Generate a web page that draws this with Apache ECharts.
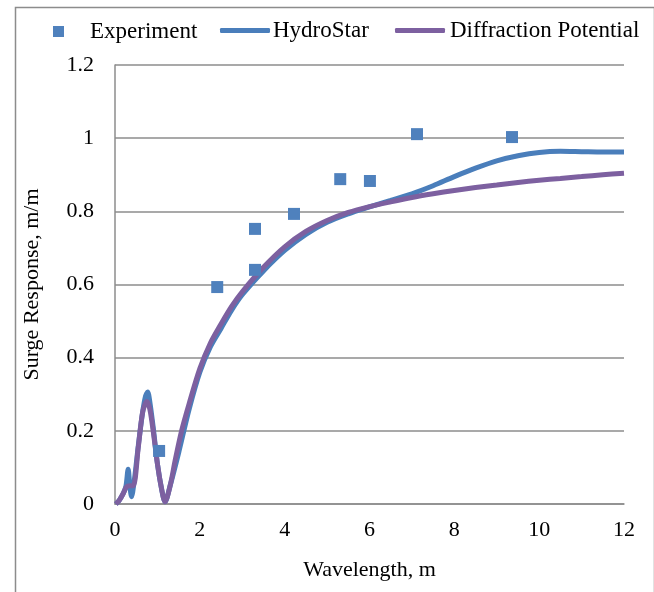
<!DOCTYPE html>
<html>
<head>
<meta charset="utf-8">
<script src="https://cdn.jsdelivr.net/npm/echarts@6/dist/echarts.min.js"></script>
<style>
html,body{margin:0;padding:0;background:#fff;}
#c{width:654px;height:592px;}
</style>
</head>
<body>
<div id="c"></div>
<script>
// Experiment points
const expX = [1.04, 2.41, 3.30, 3.30, 4.22, 5.31, 6.01, 7.12, 9.36];
const expY = [0.145, 0.593, 0.752, 0.640, 0.793, 0.888, 0.883, 1.011, 1.003];

// HydroStar curve
const hsX = [0.02, 0.1, 0.2, 0.26, 0.31, 0.35, 0.39, 0.45, 0.55, 0.65, 0.72, 0.77, 0.82, 0.9, 1.0, 1.1, 1.18, 1.3, 1.5, 1.75, 2.0, 2.25, 2.5, 2.75, 3.0, 3.5, 4.0, 4.5, 5.0, 5.5, 6.0, 6.5, 7.0, 7.5, 8.0, 8.5, 9.0, 9.5, 10.0, 10.5, 11.0, 11.5, 12.0];
const hsY = [0.0, 0.01, 0.03, 0.05, 0.095, 0.05, 0.02, 0.06, 0.16, 0.25, 0.295, 0.306, 0.28, 0.21, 0.11, 0.04, 0.006, 0.05, 0.14, 0.26, 0.36, 0.43, 0.48, 0.53, 0.572, 0.637, 0.693, 0.737, 0.77, 0.793, 0.812, 0.83, 0.848, 0.87, 0.895, 0.918, 0.938, 0.952, 0.961, 0.964, 0.963, 0.962, 0.962];

// Diffraction Potential curve
const dpX = [0.02, 0.1, 0.2, 0.27, 0.35, 0.43, 0.55, 0.65, 0.75, 0.82, 0.9, 1.0, 1.1, 1.18, 1.3, 1.42, 1.57, 1.75, 2.0, 2.25, 2.5, 2.75, 3.0, 3.5, 4.0, 4.5, 5.0, 5.5, 6.0, 6.5, 7.0, 7.5, 8.0, 8.5, 9.0, 9.5, 10.0, 10.5, 11.0, 11.5, 12.0];
const dpY = [0.0, 0.01, 0.03, 0.047, 0.05, 0.05, 0.156, 0.25, 0.28, 0.26, 0.20, 0.11, 0.04, 0.006, 0.05, 0.12, 0.2, 0.275, 0.37, 0.44, 0.492, 0.54, 0.58, 0.647, 0.703, 0.745, 0.775, 0.797, 0.813, 0.826, 0.838, 0.848, 0.857, 0.865, 0.872, 0.879, 0.885, 0.89, 0.895, 0.9, 0.904];

// Axis ticks
const xTicks = [0, 2, 4, 6, 8, 10, 12];
const yTicks = [0, 0.2, 0.4, 0.6, 0.8, 1, 1.2];

const zip = (a, b) => a.map((v, i) => [v, b[i]]);
const font = '"Liberation Serif", "Times New Roman", serif';
const gray = '#8c8c8c';
const blue = '#4A7EBB';
const purple = '#7D60A0';

const chart = echarts.init(document.getElementById('c'), null, {renderer: 'canvas'});
chart.setOption({
  animation: false,
  backgroundColor: '#fff',
  textStyle: {fontFamily: font, color: '#000'},
  graphic: [{
    type: 'rect', left: 13, top: 5, silent: true, z: -1,
    shape: {width: 639, height: 600},
    style: {fill: 'none', stroke: '#8c8c8c', lineWidth: 1.5}
  }],
  legend: [
    {data: [{name: 'Experiment', icon: 'rect'}], left: 48, top: 15, itemWidth: 11, itemHeight: 11,
     textStyle: {fontFamily: font, fontSize: 23, color: '#000', padding: [0, 0, 0, 21]}},
    {data: [{name: 'HydroStar', icon: 'roundRect'}], left: 215, top: 14, itemWidth: 50, itemHeight: 5,
     textStyle: {fontFamily: font, fontSize: 23, color: '#000', padding: [0, 0, 0, -2]}},
    {data: [{name: 'Diffraction Potential', icon: 'roundRect'}], left: 390, top: 14, itemWidth: 50, itemHeight: 5,
     textStyle: {fontFamily: font, fontSize: 23, color: '#000', padding: [0, 0, 0, 0]}}
  ],
  grid: {left: 115, right: 30, top: 65, bottom: 88, containLabel: false},
  xAxis: {
    type: 'value', min: xTicks[0], max: xTicks[xTicks.length - 1], interval: 2,
    name: 'Wavelength, m', nameLocation: 'middle', nameGap: 55,
    nameTextStyle: {fontFamily: font, fontSize: 22, color: '#000'},
    axisLine: {show: true, lineStyle: {color: gray, width: 1.5}},
    axisTick: {show: false},
    splitLine: {show: false},
    axisLabel: {fontFamily: font, fontSize: 22, color: '#000', margin: 15}
  },
  yAxis: {
    type: 'value', min: yTicks[0], max: yTicks[yTicks.length - 1], interval: 0.2,
    name: 'Surge Response, m/m', nameLocation: 'middle', nameGap: 72, nameRotate: 90,
    nameTextStyle: {fontFamily: font, fontSize: 22, color: '#000'},
    axisLine: {show: true, lineStyle: {color: gray, width: 1.5}},
    axisTick: {show: false},
    splitLine: {show: true, lineStyle: {color: gray, width: 1.5}},
    axisLabel: {fontFamily: font, fontSize: 22, color: '#000', margin: 21,
      formatter: v => String(Math.round(v * 10) / 10)}
  },
  series: [
    {name: 'Experiment', type: 'scatter', symbol: 'rect', symbolSize: 12,
     itemStyle: {color: '#4F81BD', opacity: 1}, data: zip(expX, expY), z: 5},
    {name: 'HydroStar', type: 'line', showSymbol: false, symbol: 'none', smooth: 0.3,
     lineStyle: {color: blue, width: 5}, itemStyle: {color: blue},
     data: zip(hsX, hsY), z: 3},
    {name: 'Diffraction Potential', type: 'line', showSymbol: false, symbol: 'none', smooth: 0.3,
     lineStyle: {color: purple, width: 5}, itemStyle: {color: purple},
     data: zip(dpX, dpY), z: 4}
  ]
});
</script>
</body>
</html>
